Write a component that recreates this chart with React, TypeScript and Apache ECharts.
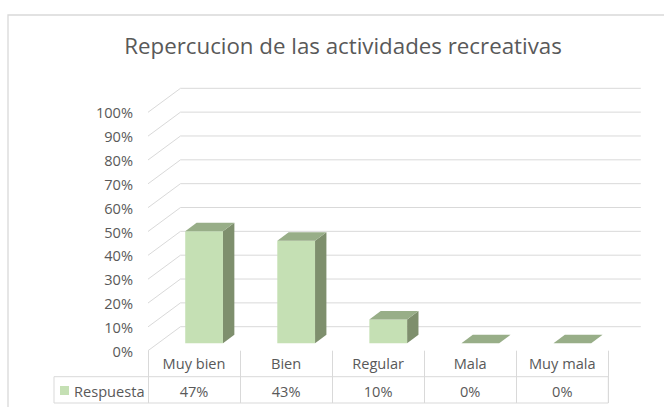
import React, { useEffect, useRef } from "react";
import * as echarts from "echarts";

const chartTitle = "Repercucion de las actividades recreativas";
const categories = ["Muy bien", "Bien", "Regular", "Mala", "Muy mala"];
const seriesName = "Respuesta";
const values = [47, 43, 10, 0, 0];
const yTicks = [0, 10, 20, 30, 40, 50, 60, 70, 80, 90, 100];

const DX = 32.5;
const DY = -24;
const F0 = 0.31;
const F1 = 0.66;
const BAR_FRAC = 0.41;
const FRONT = "#c5e0b4";
const TOP = "#98ae88";
const SIDE = "#7e8f6d";
const GRID = "#d9d9d9";
const TEXT = "#595959";
const FONT = "'Open Sans', sans-serif";
const FS = 14.6;

export default function App() {
  const ref = useRef<HTMLDivElement>(null);
  useEffect(() => {
    const chart = echarts.init(ref.current!, null, { renderer: "svg" });
    const option: any = {
      animation: false,
      backgroundColor: "#ffffff",
      title: {
        text: chartTitle,
        left: 338,
        textAlign: "center",
        top: 29,
        textStyle: { fontFamily: FONT, fontSize: 22.3, fontWeight: "normal", color: TEXT },
      },
      legend: {
        data: [{ name: seriesName, icon: "rect" }],
        left: 60,
        top: 383,
        padding: 0,
        itemWidth: 9,
        itemHeight: 9,
        textStyle: { fontFamily: FONT, fontSize: FS, color: TEXT },
      },
      grid: { left: 148, right: 55.7, top: 112.3, bottom: 56.3 },
      xAxis: [
        {
          type: "category",
          data: categories,
          position: "bottom",
          axisLine: { show: false },
          axisTick: { show: true, length: 52.3, lineStyle: { color: GRID } },
          axisLabel: { margin: 5, fontFamily: FONT, fontSize: FS, color: TEXT },
        },
        {
          type: "category",
          data: values.map((v) => v + "%"),
          position: "bottom",
          offset: 26,
          axisLine: { show: false },
          axisTick: { show: false },
          axisLabel: { margin: 7, fontFamily: FONT, fontSize: FS, color: TEXT },
        },
      ],
      yAxis: {
        type: "value",
        min: 0,
        max: 1,
        interval: 0.1,
        axisLine: { show: false },
        axisTick: { show: false },
        splitLine: { show: false },
        axisLabel: {
          margin: 15,
          fontFamily: FONT,
          fontSize: FS,
          color: TEXT,
          formatter: (v: number) => Math.round(v * 100) + "%",
        },
      },
      series: [
        {
          type: "custom",
          name: "walls",
          silent: true,
          z: 1,
          data: yTicks.map((t) => [0, t / 100]),
          encode: { x: 0, y: 1 },
          renderItem: (params: any, api: any) => {
            const cs = params.coordSys;
            const y = api.coord([0, api.value(1)])[1];
            const xl = cs.x;
            const xr = cs.x + cs.width;
            return {
              type: "polyline",
              shape: { points: [[xl, y], [xl + DX, y + DY], [xr + DX, y + DY]] },
              style: { stroke: GRID, lineWidth: 1, fill: "none" },
            };
          },
        },
        {
          type: "custom",
          name: seriesName,
          z: 2,
          itemStyle: { color: FRONT },
          data: values.map((v, i) => [i, v / 100]),
          encode: { x: 0, y: 1 },
          renderItem: (params: any, api: any) => {
            const i = api.value(0);
            const v = api.value(1);
            const [cx, yTop] = api.coord([i, v]);
            const yBase = api.coord([i, 0])[1];
            const band = api.size([1, 0])[0];
            const w = band * BAR_FRAC;
            const x0 = cx - w / 2 + F0 * DX;
            const x1 = cx + w / 2 + F0 * DX;
            const yt = yTop + F0 * DY;
            const yb = yBase + F0 * DY;
            const ddx = (F1 - F0) * DX;
            const ddy = (F1 - F0) * DY;
            return {
              type: "group",
              children: [
                {
                  type: "polygon",
                  shape: { points: [[x1, yt], [x1 + ddx, yt + ddy], [x1 + ddx, yb + ddy], [x1, yb]] },
                  style: { fill: SIDE },
                },
                {
                  type: "rect",
                  shape: { x: x0, y: yt, width: w, height: yb - yt },
                  style: { fill: FRONT },
                },
                {
                  type: "polygon",
                  shape: { points: [[x0, yt], [x1, yt], [x1 + ddx, yt + ddy], [x0 + ddx, yt + ddy]] },
                  style: { fill: TOP },
                },
              ],
            };
          },
        },
      ],
      graphic: [
        {
          type: "rect",
          silent: true,
          shape: { x: 8, y: 15, width: 700, height: 500 },
          style: { fill: "none", stroke: GRID, lineWidth: 1.3 },
        },
        {
          type: "rect",
          silent: true,
          shape: { x: 54, y: 376.7, width: 554.3, height: 26.3 },
          style: { fill: "none", stroke: GRID, lineWidth: 1 },
        },
      ],
    };
    chart.setOption(option);
    return () => chart.dispose();
  }, []);
  return (
    <div
      ref={ref}
      style={{ position: "absolute", left: 0, top: 0, width: 664, height: 407 }}
    />
  );
}
